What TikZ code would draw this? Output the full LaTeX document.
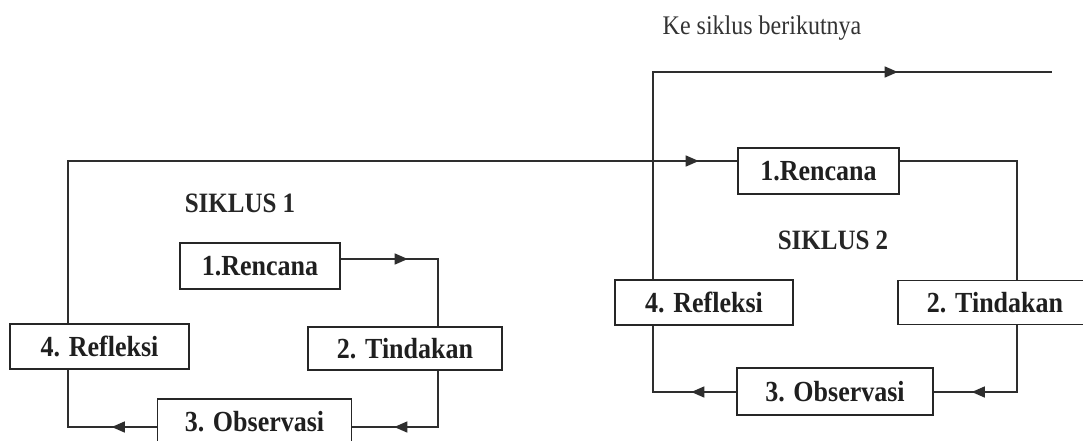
\documentclass[tikz,border=0pt]{standalone}
\usepackage{fontspec}
\usepackage{graphicx}
\setmainfont{Liberation Serif}
\usetikzlibrary{arrows.meta,decorations.markings}
\newcommand{\tallt}[1]{\scalebox{1}[1.12]{#1}}
\tikzset{
  boxnode/.style={draw, line width=1.4pt, draw=black!85, rectangle, inner sep=0pt, font=\fontsize{26}{28}\selectfont\bfseries, text=black!88},
  conn/.style={line width=1.4pt, draw=black!82},
  tipat/.style={postaction={decorate}, decoration={markings, mark=at position #1 with {\arrow{Triangle[length=13pt,width=11pt]}}}},
  titlelabel/.style={font=\fontsize{25}{28}\selectfont\bfseries, text=black!85, inner sep=0pt},
}
\begin{document}
\begin{tikzpicture}[x=1pt,y=-1pt]
\useasboundingbox (0,0) rectangle (1083,440);
\clip (0,0) rectangle (1083,440);
\fill[white] (0,0) rectangle (1083,440);
% guide coordinates
\coordinate (X1) at (68,0);
\coordinate (X2) at (438,0);
\coordinate (X3) at (653,0);
\coordinate (X4) at (1017,0);
\coordinate (Y0) at (0,161);
\coordinate (Y1) at (0,259);
\coordinate (Y2) at (0,427);
\coordinate (Y3) at (0,72);
\coordinate (Y4) at (0,392);
\coordinate (E) at (1052,72);
% cycle 1 nodes
\node[boxnode, minimum width=160pt, minimum height=46pt] (R1) at (260,266) {\tallt{1.Rencana}};
\node[boxnode, minimum width=194pt, minimum height=43pt] (T1) at (405,348.5) {\tallt{2. Tindakan}};
\node[boxnode, minimum width=194pt, minimum height=46pt] (O1) at (254.5,422) {\tallt{3. Observasi}};
\node[boxnode, minimum width=179pt, minimum height=45pt] (F1) at (99.5,346.5) {\tallt{4. Refleksi}};
\node[titlelabel] (S1) at (240,203) {\tallt{SIKLUS 1}};
% cycle 2 nodes
\node[boxnode, minimum width=161pt, minimum height=46pt] (R2) at (818.5,171) {\tallt{1.Rencana}};
\node[boxnode, minimum width=194pt, minimum height=44pt] (T2) at (995,302.5) {\tallt{2. Tindakan}};
\node[boxnode, minimum width=196pt, minimum height=47pt] (O2) at (835,391.5) {\tallt{3. Observasi}};
\node[boxnode, minimum width=178pt, minimum height=45pt] (F2) at (704,302.5) {\tallt{4. Refleksi}};
\node[titlelabel] (S2) at (833,240) {\tallt{SIKLUS 2}};
\node[font=\fontsize{24}{26}\selectfont, text=black!80, inner sep=0pt] (K) at (762,28) {\tallt{Ke siklus berikutnya}};
% connectors cycle 1
\draw[conn, tipat=67pt] (R1.east |- Y1) -- (X2 |- Y1) -- (X2 |- T1.north);
\draw[conn, tipat=100pt] (X2 |- T1.south) -- (X2 |- Y2) -- (O1.east |- Y2);
\draw[conn, tipat=45pt] (O1.west |- Y2) -- (X1 |- Y2) -- (X1 |- F1.south);
\draw[conn, tipat=793pt] (X1 |- F1.north) -- (X1 |- Y0) -- (R2.west |- Y0);
% connectors cycle 2
\draw[conn] (R2.east |- Y0) -- (X4 |- Y0) -- (X4 |- T2.north);
\draw[conn, tipat=112pt] (X4 |- T2.south) -- (X4 |- Y4) -- (O2.east |- Y4);
\draw[conn, tipat=45pt] (O2.west |- Y4) -- (X3 |- Y4) -- (X3 |- F2.south);
\draw[conn, tipat=452pt] (X3 |- F2.north) -- (X3 |- Y3) -- (E);
\end{tikzpicture}
\end{document}
